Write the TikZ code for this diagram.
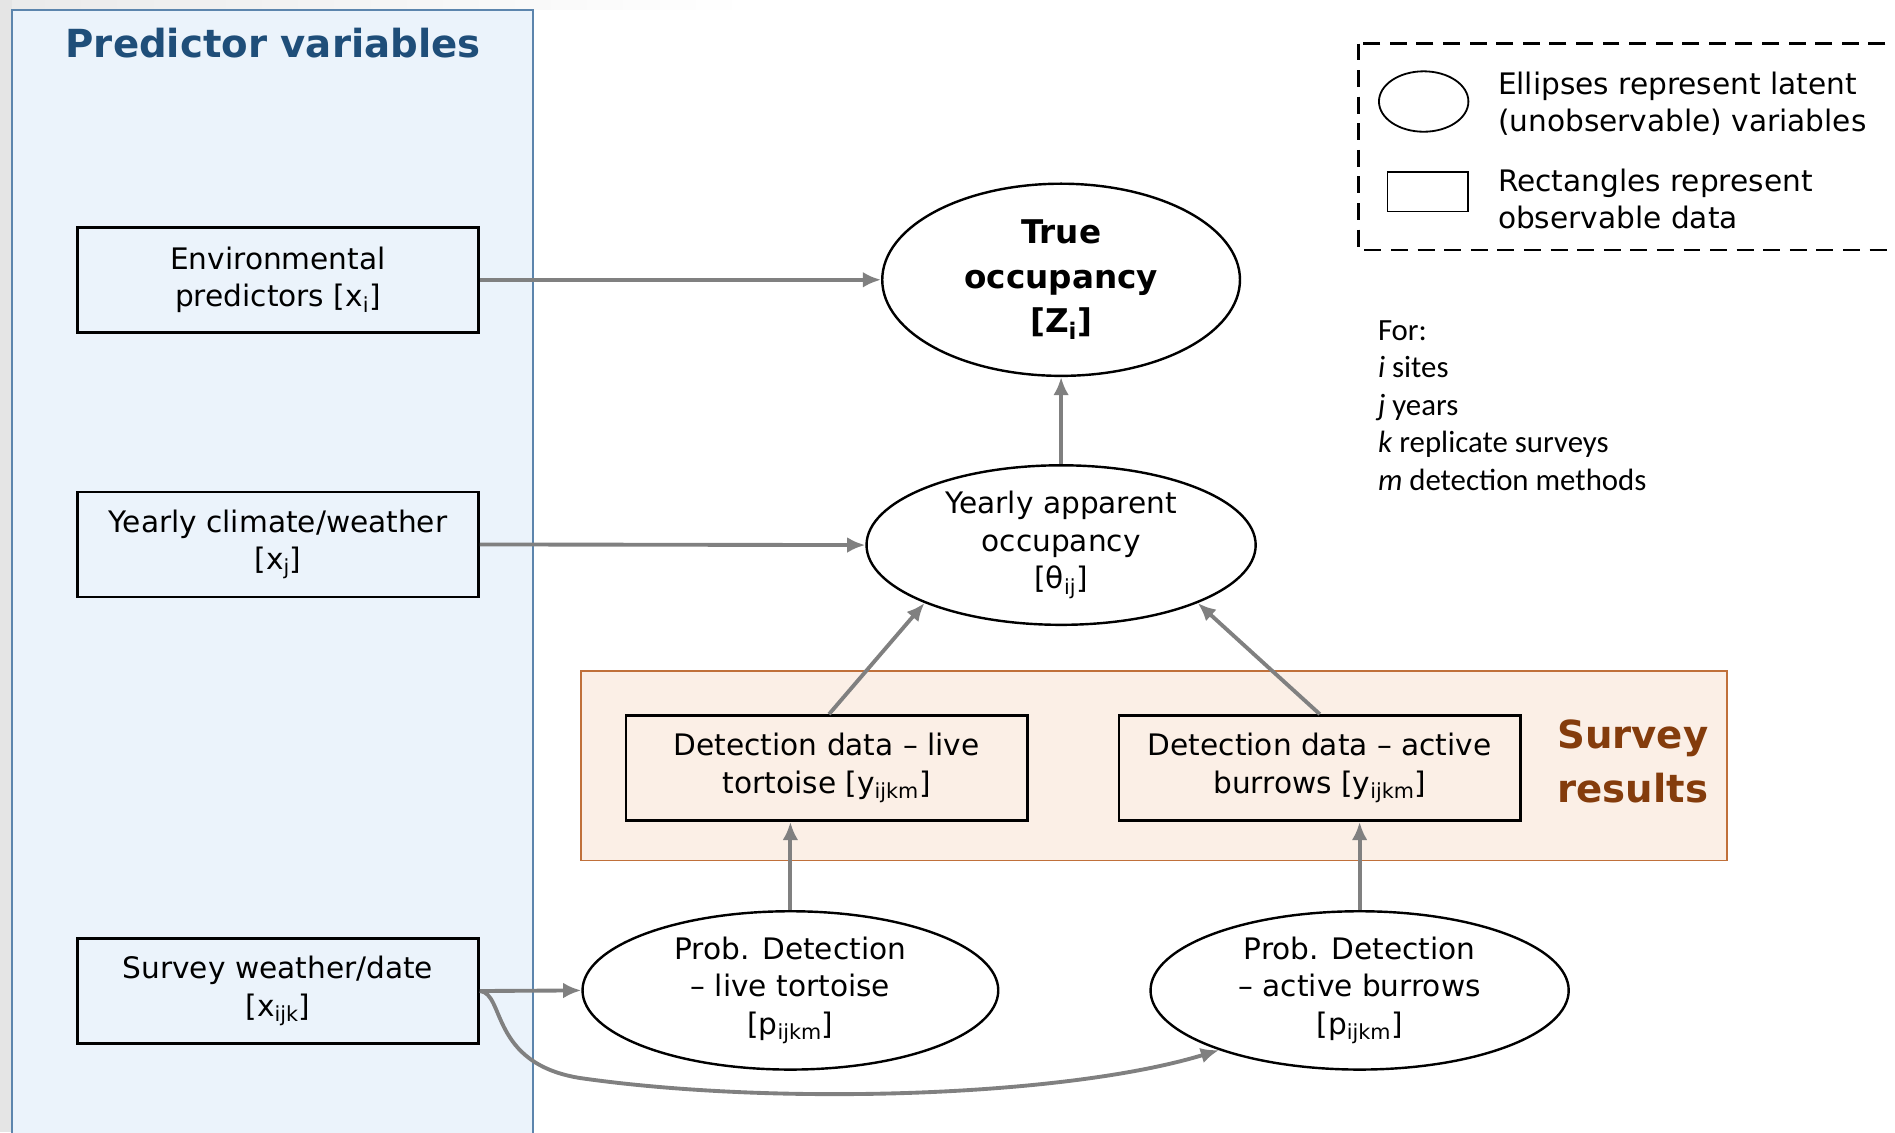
\documentclass[tikz,border=0pt]{standalone}
\usepackage{fontspec}
\setmainfont{DejaVu Sans}
\newfontfamily\notefont{Carlito}
\usetikzlibrary{shapes.geometric,arrows.meta}

\definecolor{predfill}{HTML}{EBF3FB}
\definecolor{predline}{HTML}{5C85AD}
\definecolor{predtext}{HTML}{1F4E79}
\definecolor{survfill}{HTML}{FBEFE6}
\definecolor{survline}{HTML}{C0703A}
\definecolor{survtext}{HTML}{843C0C}
\definecolor{arrowgray}{HTML}{808080}

\begin{document}
\begin{tikzpicture}[x=1pt,y=-1pt,>={Latex[length=15pt,width=13pt]},
  txt/.style={font=\fontsize{24.5}{31}\selectfont,align=center},
  databox/.style={txt,draw=black,line width=2.2pt,minimum width=332pt,minimum height=87pt,inner sep=0pt},
  latent/.style={txt,ellipse,draw=black,line width=2pt,fill=white,inner sep=0pt},
  link/.style={->,draw=arrowgray,line width=3.2pt}]
  \clip (0,0) rectangle (1568,937);

  % Background
  \fill[black!10] (0,0) rectangle (10,937);
  \shade[left color=black!8,right color=white] (10,0) rectangle (620,8);

  % Panels
  \draw[predline,fill=predfill,line width=1.5pt] (10,8) rectangle (441,950);
  \node[font=\bfseries\fontsize{32}{38}\selectfont,text=predtext] (predtitle) at (226,36) {Predictor variables};
  \draw[survline,fill=survfill,line width=1.5pt] (481,555) rectangle (1429,712);
  \node[font=\bfseries\fontsize{32}{45}\selectfont,text=survtext,align=center] (survtitle) at (1351,630) {Survey\\results};

  % Predictors
  \node[databox] (env) at (230,231.5) {Environmental\\predictors [x\textsubscript{i}]};
  \node[databox] (clim) at (230,450.5) {Yearly climate/weather\\{}[x\textsubscript{j}]};
  \node[databox] (surv) at (230,820) {Survey weather/date\\{}[x\textsubscript{ijk}]};

  % Occupancy
  \node[latent,font=\bfseries\fontsize{27}{37}\selectfont,minimum width=296pt,minimum height=159pt] (true) at (878,231.5) {True\\occupancy\\{}[Z\textsubscript{i}]};
  \node[latent,minimum width=322pt,minimum height=132pt] (appar) at (878,451) {Yearly apparent\\occupancy\\{}[θ\textsubscript{ij}]};

  % Survey data
  \node[databox] (detlive) at (684,635.5) {Detection data -- live\\tortoise [y\textsubscript{ijkm}]};
  \node[databox] (detburr) at (1092,635.5) {Detection data -- active\\burrows [y\textsubscript{ijkm}]};

  % Detection probabilities
  \node[latent,minimum width=344pt,minimum height=131pt] (plive) at (654,819.5) {Prob. Detection\\-- live tortoise\\{}[p\textsubscript{ijkm}]};
  \node[latent,minimum width=346pt,minimum height=131pt] (pburr) at (1125,819.5) {Prob. Detection\\-- active burrows\\{}[p\textsubscript{ijkm}]};

  % Arrows
  \draw[link] (env.east) -- (true.west);
  \draw[link] (clim.east) -- (appar.west);
  \draw[link] (appar.north) -- (true.south);
  \draw[link] ([xshift=2pt]detlive.north) -- (appar.203);
  \draw[link] (detburr.north) -- (appar.-23);
  \draw[link] (plive.north) -- (plive.north |- detlive.south);
  \draw[link] (pburr.north) -- (pburr.north |- detburr.south);
  \draw[link] (surv.east) -- (plive.west);
  \draw[link] (surv.east) .. controls (418,822) and (405,880) .. (480,892)
    .. controls (640,915) and (880,908) .. (pburr.203);

  % Legend
  \draw[dashed,dash pattern=on 14pt off 8pt,line width=2pt] (1124,36) rectangle (1600,207);
  \draw[line width=1.5pt] (1178,84) ellipse (37 and 25);
  \draw[line width=1.5pt] (1148,142) rectangle (1215,175);
  \node[txt,align=left,anchor=west] (legell) at (1236,86) {Ellipses represent latent\\(unobservable) variables};
  \node[txt,align=left,anchor=west] (legrect) at (1236,164.5) {Rectangles represent\\observable data};

  % Indices
  \node[font=\notefont\fontsize{25.5}{31}\selectfont,align=left,anchor=north west,inner sep=0pt] (indices) at (1140,265)
    {For:\\\textit{i} sites\\\textit{j} years\\\textit{k} replicate surveys\\\textit{m} detection methods};
\end{tikzpicture}
\end{document}
